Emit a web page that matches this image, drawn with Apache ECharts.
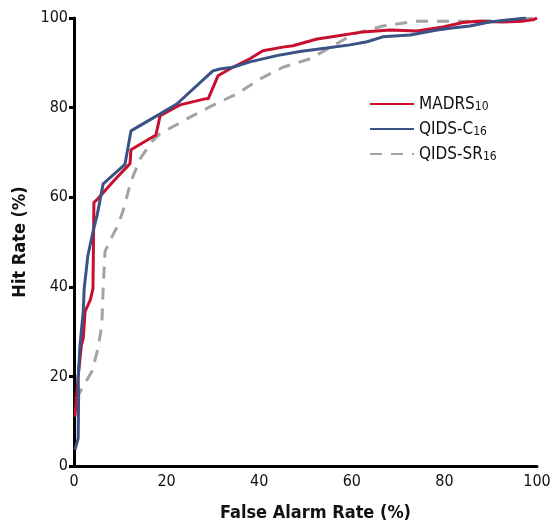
<!DOCTYPE html>
<html><head><meta charset="utf-8">
<script src="https://cdn.jsdelivr.net/npm/echarts@6/dist/echarts.min.js"></script>
<style>html,body{margin:0;padding:0;background:#fff}#c{width:555px;height:527px}</style>
</head><body><div id="c"></div>
<script>
const xTicks = [0, 20, 40, 60, 80, 100];
const yTicks = [0, 20, 40, 60, 80, 100];
const madrs = [[0.2,11],[0.9,20],[1.6,27],[2.0,28.5],[2.4,34.5],[3.5,37],[4.1,39.6],[4.3,58.8],[5.2,59.7],[6.3,61],[8.9,64],[12.1,67.5],[12.3,70.6],[17.7,73.9],[18.6,78.2],[22.9,80.6],[28.5,82],[29.0,82],[31.1,87.1],[34.3,89],[38,90.9],[40.8,92.7],[45.1,93.5],[47.3,93.8],[52.5,95.3],[56.8,96],[62.4,96.9],[68.3,97.3],[74,97.1],[79.7,98],[84,99],[87,99.3],[92.7,99.1],[97,99.3],[99.1,99.6],[100,100]];
const qidsC = [[0.2,3.6],[0.9,6.2],[1.0,15.8],[0.9,19.6],[1.3,27],[2.0,34.5],[2.2,39.6],[3.0,47],[4.1,52.3],[5.0,56],[6.3,63],[11,67.3],[12.3,74.8],[18.6,78.6],[22.2,80.8],[30,88.2],[31.5,88.6],[34.3,89],[38,90.2],[43.8,91.6],[48.8,92.5],[54.6,93.3],[59.6,94],[63.3,94.7],[66.7,95.8],[72.6,96.2],[78.4,97.3],[81.2,97.7],[85.5,98.2],[89.8,99.1],[94.2,99.6],[97.6,100]];
const qidsSR = [[0.3,15],[0.9,15.8],[3.9,21.2],[5.2,26.3],[6.0,31.4],[6.3,39.6],[6.7,47.9],[8.2,51.2],[9.5,53.7],[10.6,57],[12.3,63.5],[14.3,68.6],[16.8,72.4],[18.6,74.2],[25.7,78.2],[29.4,80.2],[35.2,83.1],[40.2,86.4],[45.1,89],[51,90.9],[56,93.8],[60.3,96.4],[66.7,98.2],[74,99.3],[81.2,99.3],[87,99.3],[93,99.5],[100,100]];
const seriesNames = ['MADRS10', 'QIDS-C16', 'QIDS-SR16'];
const font = "'Liberation Sans Narrow', 'DejaVu Sans Condensed', sans-serif";
const legendRich = {
  n: {fontSize: 17, fontFamily: font, color:'#111', verticalAlign:'bottom', lineHeight: 18},
  s: {fontSize: 12, fontFamily: font, color:'#111', verticalAlign:'bottom', lineHeight: 18, padding:[6,0,0,0]}
};
const chart = echarts.init(document.getElementById('c'));
chart.setOption({
  animation: false,
  backgroundColor: '#fff',
  grid: {left: 74, right: 18, top: 18, bottom: 59},
  legend: {
    orient: 'vertical', left: 364, top: 90, itemWidth: 44, itemHeight: 14, itemGap: 7,
    data: seriesNames,
    itemStyle: {opacity: 0},
    formatter: function(n){ const m = n.match(/^(.*?)(\d+)$/); return '{n|'+m[1]+'}{s|'+m[2]+'}'; },
    textStyle: {rich: legendRich}
  },
  xAxis: {
    type: 'value', min: 0, max: 100, interval: 20,
    name: 'False Alarm Rate (%)', nameLocation: 'middle', nameGap: 38,
    nameTextStyle: {fontFamily: font, fontSize: 18, fontWeight: 'bold', color: '#111', padding: [0, 0, 0, 20]},
    axisLine: {lineStyle: {color: '#000', width: 3}},
    axisTick: {show: false},
    axisLabel: {fontFamily: font, fontSize: 16, color: '#111', margin: 8},
    splitLine: {show: false}
  },
  yAxis: {
    type: 'value', min: 0, max: 100, interval: 20,
    name: 'Hit Rate (%)', nameLocation: 'middle', nameGap: 36,
    nameTextStyle: {fontFamily: font, fontSize: 18, fontWeight: 'bold', color: '#111'},
    axisLine: {show: true, lineStyle: {color: '#000', width: 3}},
    axisTick: {show: true, length: 5, lineStyle: {width: 3, color: '#000'}},
    axisLabel: {fontFamily: font, fontSize: 16, color: '#111', margin: 6},
    splitLine: {show: false}
  },
  series: [
    {name: seriesNames[2], type: 'line', data: qidsSR, symbol: 'none', z: 1,
      lineStyle: {color: '#a3a3a3', width: 3, type: [12, 9]}, itemStyle: {color: '#a3a3a3'}},
    {name: seriesNames[0], type: 'line', data: madrs, symbol: 'none', z: 2,
      lineStyle: {color: '#c8102e', width: 3}, itemStyle: {color: '#c8102e'}},
    {name: seriesNames[1], type: 'line', data: qidsC, symbol: 'none', z: 3,
      lineStyle: {color: '#3a5285', width: 3}, itemStyle: {color: '#3a5285'}}
  ]
});
</script></body></html>
